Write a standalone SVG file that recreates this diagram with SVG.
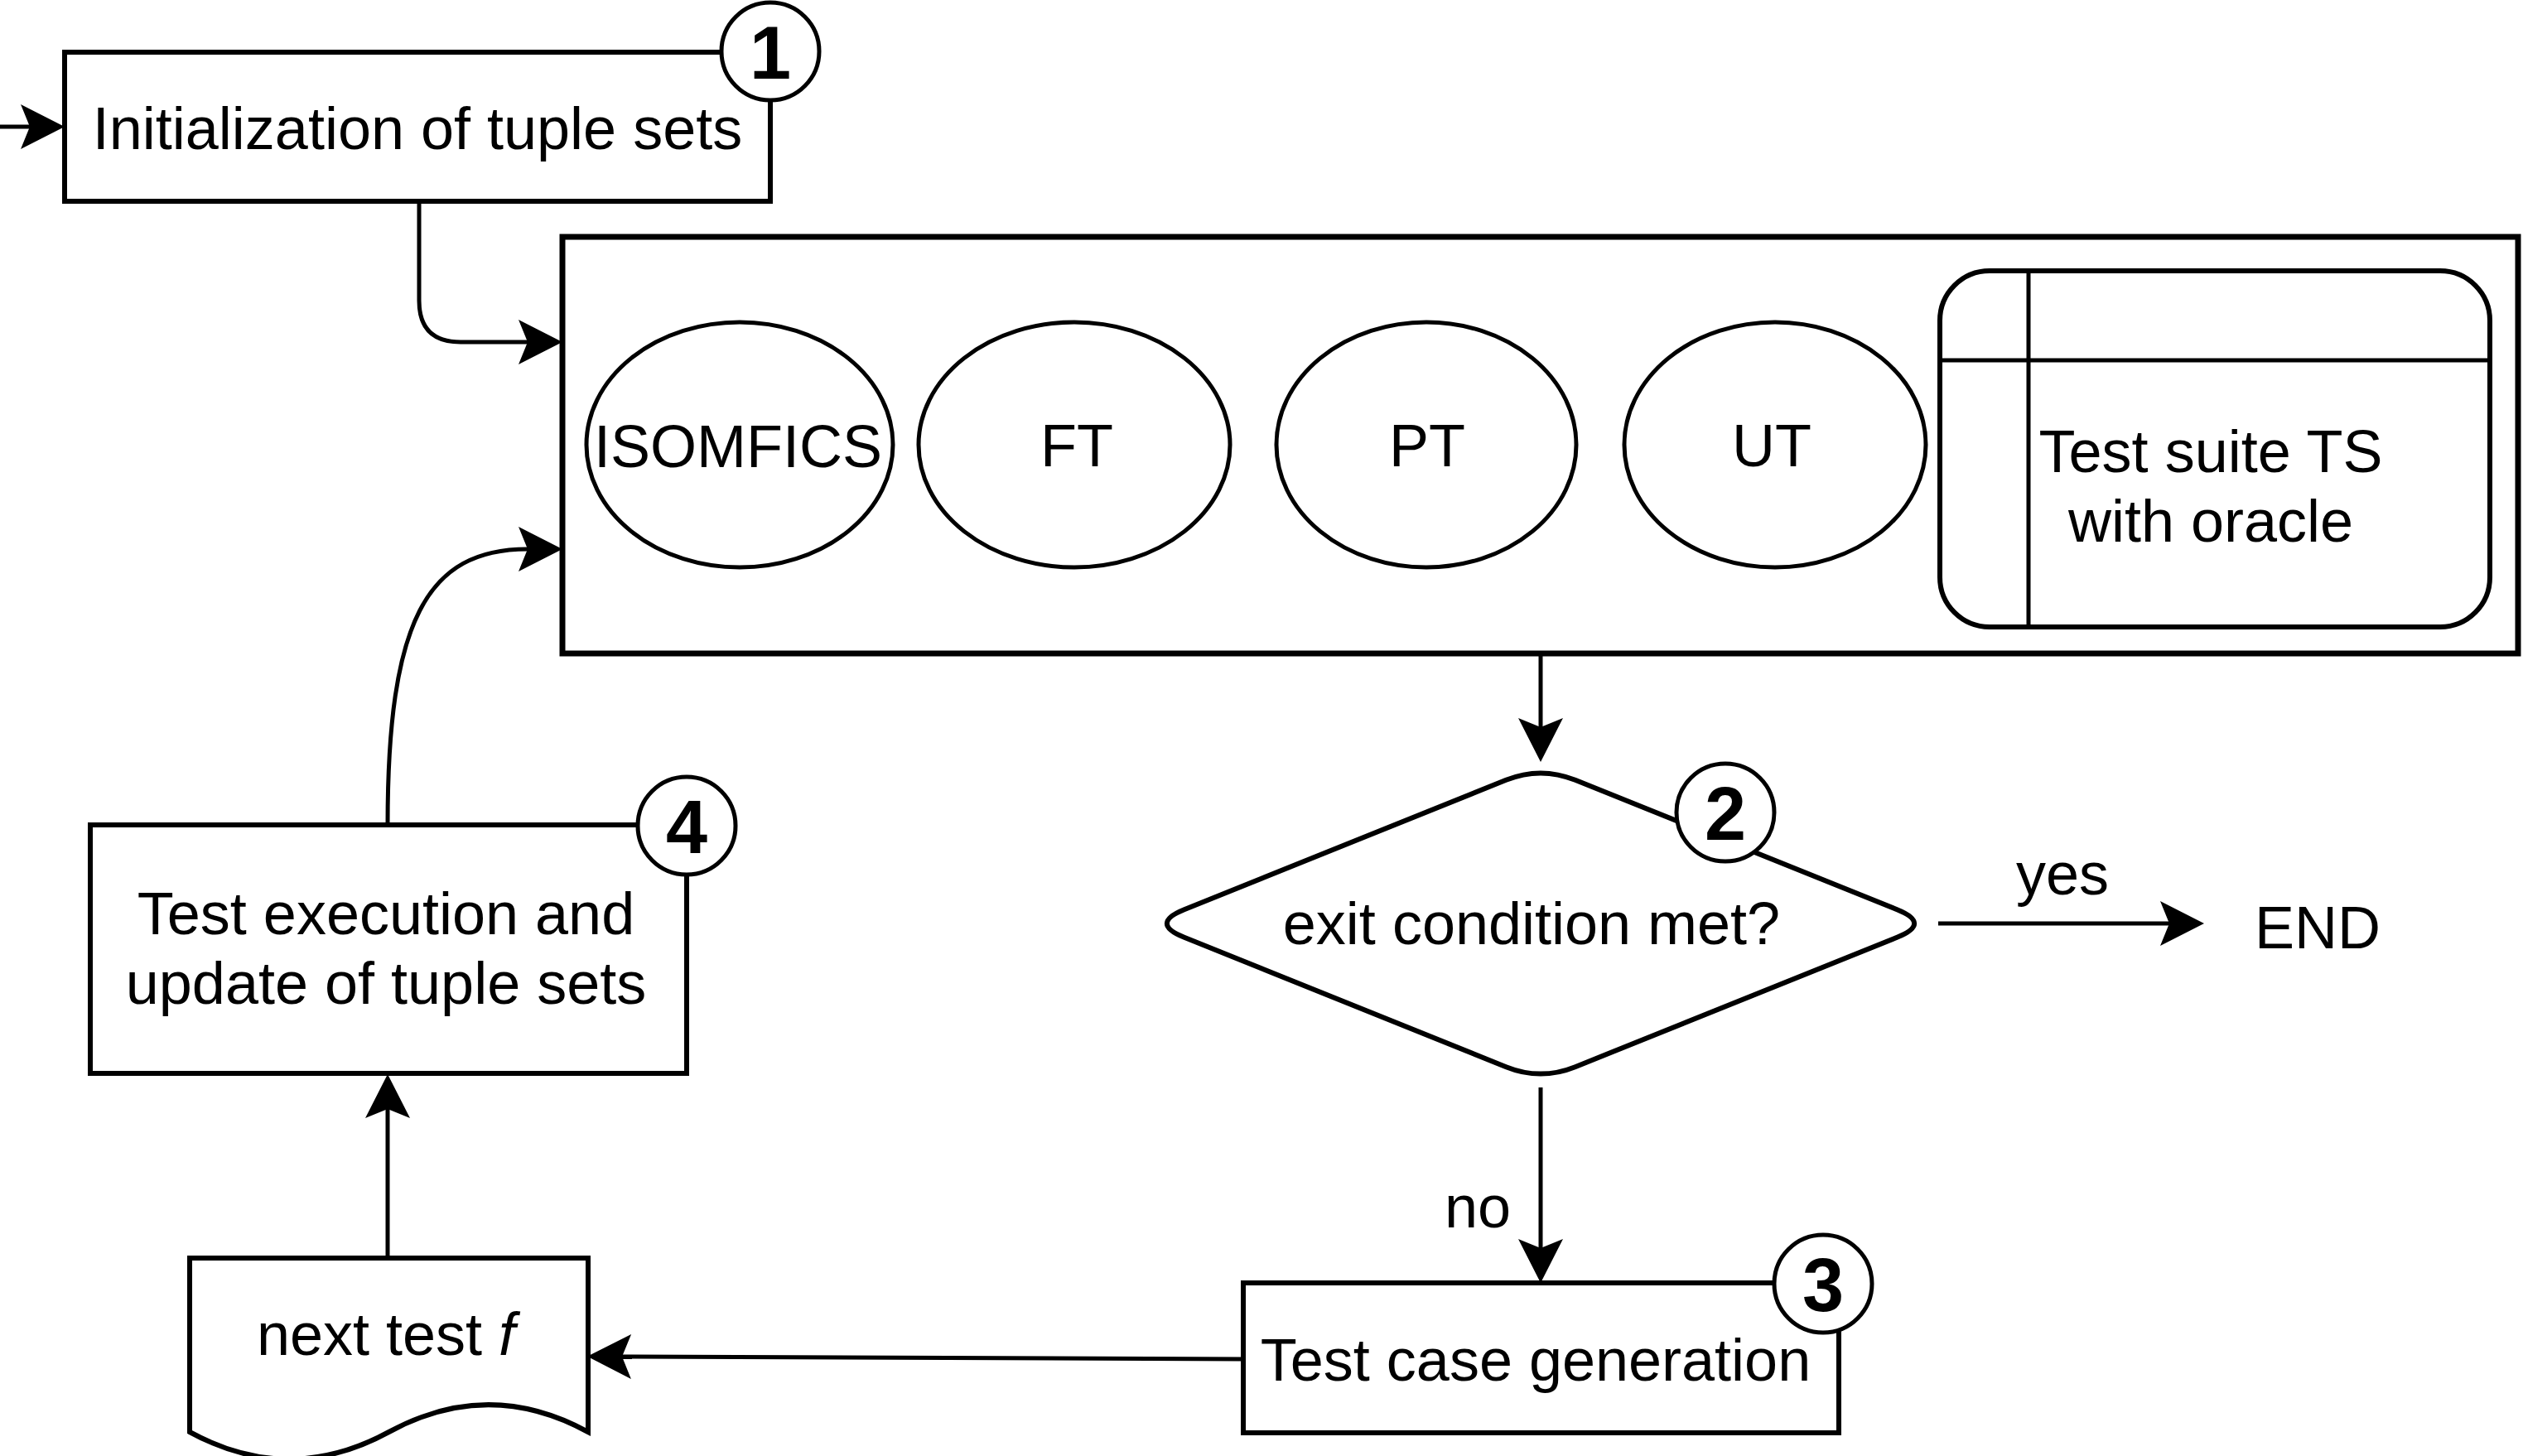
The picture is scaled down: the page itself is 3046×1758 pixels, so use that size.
<svg xmlns="http://www.w3.org/2000/svg" width="3046" height="1758" viewBox="0 0 3046 1758">
<style>
  text { font-family: "Liberation Sans", Arial, Helvetica, sans-serif; font-size: 72px; fill: #000; text-anchor: middle; }
  .num { font-weight: bold; font-size: 90px; }
  .shape { fill: #fff; stroke: #000; stroke-width: 6; }
  .thin { fill: #fff; stroke: #000; stroke-width: 5; }
  .line { fill: none; stroke: #000; stroke-width: 5; }
  .edge { fill: none; stroke: #000; stroke-width: 5; marker-end: url(#arr); }
  .badge { fill: #fff; stroke: #000; stroke-width: 5; }
</style>
<defs>
  <marker id="arr" markerUnits="userSpaceOnUse" markerWidth="60" markerHeight="60" refX="11" refY="27" orient="auto" overflow="visible">
    <path d="M0,0 L53,27 L0,54 L11,27 Z" fill="#000"/>
  </marker>
</defs>
<rect width="3046" height="1758" fill="#fff"/>

<g id="connectors">
  <path class="edge" d="M0,153 L36,153"/>
  <path class="edge" d="M506,243 V363 Q506,413 556,413 H637"/>
  <path class="edge" d="M468,996 C468,750 515,663 637,663"/>
  <path class="edge" d="M1860,789 V878"/>
  <path class="edge" d="M2340,1115 H2619"/>
  <path class="edge" d="M1860,1313 V1507"/>
  <path class="edge" d="M1502,1641 L751,1638"/>
  <path class="edge" d="M468,1519 V1339"/>
  <text x="2490" y="1080">yes</text>
  <text x="1784" y="1482">no</text>
</g>

<g id="init">
  <rect class="shape" x="78" y="63" width="852" height="180"/>
  <text x="504" y="180">Initialization of tuple sets</text>
  <circle class="badge" cx="930" cy="62" r="59"/>
  <text class="num" x="930" y="95">1</text>
</g>

<g id="container">
  <rect class="shape" x="679" y="286" width="2361" height="503" style="stroke-width:7"/>
</g>

<g id="isomfics">
  <ellipse class="thin" cx="893" cy="537" rx="185" ry="148"/>
  <text x="891" y="564">ISOMFICS</text>
</g>
<g id="ft">
  <ellipse class="thin" cx="1297" cy="537" rx="188" ry="148"/>
  <text x="1300" y="563">FT</text>
</g>
<g id="pt">
  <ellipse class="thin" cx="1722" cy="537" rx="181" ry="148"/>
  <text x="1723" y="563">PT</text>
</g>
<g id="ut">
  <ellipse class="thin" cx="2143" cy="537" rx="182" ry="148"/>
  <text x="2139" y="563">UT</text>
</g>

<g id="testsuite">
  <rect class="shape" x="2342" y="327" width="664" height="430" rx="60" ry="60"/>
  <line class="line" x1="2449" y1="327" x2="2449" y2="757"/>
  <line class="line" x1="2342" y1="435" x2="3006" y2="435"/>
  <text x="2669" y="570">Test suite TS</text>
  <text x="2669" y="654">with oracle</text>
</g>

<g id="decision">
  <path class="shape" d="M1901.7,941.8 L2290.3,1098.2 Q2332,1115 2290.3,1131.8 L1901.7,1288.2 Q1860,1305 1818.3,1288.2 L1429.7,1131.8 Q1388,1115 1429.7,1098.2 L1818.3,941.8 Q1860,925 1901.7,941.8 Z"/>
  <text x="1849" y="1140">exit condition met?</text>
  <circle class="badge" cx="2083" cy="981" r="59"/>
  <text class="num" x="2083" y="1014">2</text>
</g>

<g id="end">
  <text x="2798" y="1145">END</text>
</g>

<g id="testcase">
  <rect class="shape" x="1501" y="1549" width="719" height="181"/>
  <text x="1854" y="1667">Test case generation</text>
  <circle class="badge" cx="2201" cy="1550" r="59"/>
  <text class="num" x="2201" y="1583">3</text>
</g>

<g id="nexttest">
  <path class="shape" d="M229,1519 L710,1519 L710,1729 Q589.75,1663.3 469.5,1729 Q349.25,1794.7 229,1729 Z"/>
  <text x="466" y="1636">next test <tspan font-style="italic">f</tspan></text>
</g>

<g id="execution">
  <rect class="shape" x="109" y="996" width="720" height="300"/>
  <text x="466" y="1128">Test execution and</text>
  <text x="466" y="1212">update of tuple sets</text>
  <circle class="badge" cx="829" cy="997" r="59"/>
  <text class="num" x="829" y="1030">4</text>
</g>
</svg>
